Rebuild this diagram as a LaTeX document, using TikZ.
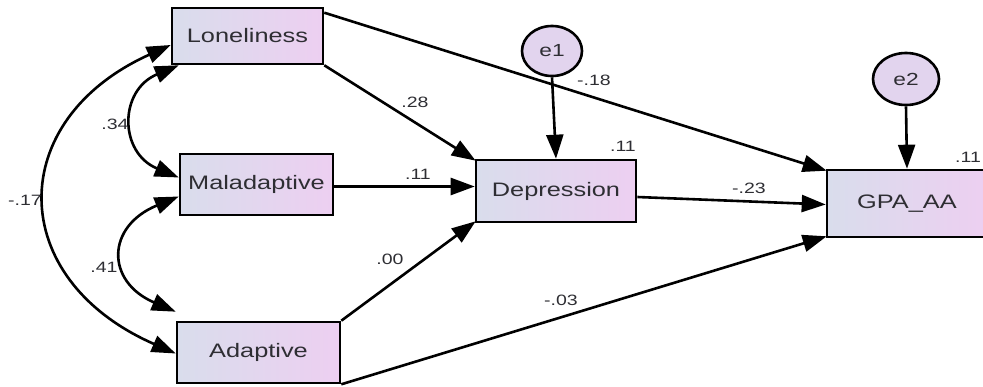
\documentclass[tikz,border=0pt]{standalone}
\usepackage{fontspec}
\setmainfont[FakeStretch=1.3]{Liberation Sans}
\usetikzlibrary{arrows.meta,shapes.geometric}
\definecolor{boxL}{HTML}{D9DDEC}
\definecolor{boxR}{HTML}{EDCFF1}
\definecolor{ellF}{HTML}{E2D4EE}
\definecolor{txt}{HTML}{2E2E33}
\tikzset{
  var/.style={draw=black, line width=2.6pt, left color=boxL, right color=boxR,
    shading angle=90, inner sep=0pt, text=txt, font=\fontsize{19.5}{19.5}\selectfont},
  err/.style={ellipse, draw=black, line width=2.6pt, fill=ellF, inner sep=0pt,
    text=txt, font=\fontsize{17.5}{17.5}\selectfont},
  coef/.style={text=txt, inner sep=0pt, font=\fontsize{15}{15}\selectfont},
  path/.style={line width=2.6pt, -{Triangle[length=24pt,width=17pt]}},
  cov/.style={line width=2.6pt, {Triangle[length=24pt,width=17pt]}-{Triangle[length=24pt,width=17pt]}},
}
\begin{document}
\begin{tikzpicture}[x=1pt,y=-1pt]
\useasboundingbox (0,0) rectangle (983,387);
% variables
\node[var, minimum width=151pt, minimum height=56pt] (lon) at (247.5,36) {Loneliness};
\node[var, minimum width=153pt, minimum height=61pt] (mal) at (256.5,184.5) {Maladaptive};
\node[var, minimum width=163pt, minimum height=61pt] (ada) at (258.5,352.5) {Adaptive};
\node[var, minimum width=160pt, minimum height=62pt] (dep) at (556,191) {Depression};
\node[var, minimum width=160pt, minimum height=67pt] (gpa) at (907,203.5) {GPA\_AA};
\node[err, minimum width=60pt, minimum height=50pt] (e1) at (552,51) {e1};
\node[err, minimum width=66pt, minimum height=52pt] (e2) at (906,79) {e2};
% directed paths
\draw[path] ([yshift=-6pt]lon.north east) -- ([xshift=1pt,yshift=-2pt]gpa.north west);
\draw[path] (lon.south east) -- ([xshift=1pt,yshift=-2pt]dep.north west);
\draw[path] ([yshift=-2pt]mal.east) -- ([yshift=-2pt]mal.east -| dep.west);
\draw[path] (ada.north east) -- ([xshift=1pt,yshift=2pt]dep.south west);
\draw[path] ([yshift=-6pt]dep.east) -- ([yshift=-1pt]gpa.west);
\draw[path] (ada.south east) -- ([xshift=1pt,yshift=2pt]gpa.south west);
\draw[path] (e1.south) -- (dep.north);
\draw[path] (e2.south) -- (gpa.north);
% covariances
\draw[cov] ([xshift=8pt]lon.south west) .. controls +(-60,25) and +(-60,-25) .. ([yshift=7pt]mal.west);
\draw[cov] ([yshift=-12pt]mal.west) .. controls +(-73,30) and +(-70,-30) .. ([yshift=9pt]ada.north west);
\draw[cov] ([yshift=-9pt]lon.west) .. controls +(-166,75) and +(-171,-75) .. ([yshift=-1pt]ada.west);
% coefficients
\node[coef] (c34) at (115,124) {.34};
\node[coef] (c41) at (104,267) {.41};
\node[coef] (c17) at (25,200) {-.17};
\node[coef] (c28) at (415,102) {.28};
\node[coef] (c11a) at (418,174) {.11};
\node[coef] (c00) at (390,259) {.00};
\node[coef] (c18) at (594,80) {-.18};
\node[coef] (r1) at (623,146) {.11};
\node[coef] (c23) at (749,188) {-.23};
\node[coef] (c03) at (561,300) {-.03};
\node[coef] (r2) at (968,157) {.11};
\end{tikzpicture}
\end{document}
